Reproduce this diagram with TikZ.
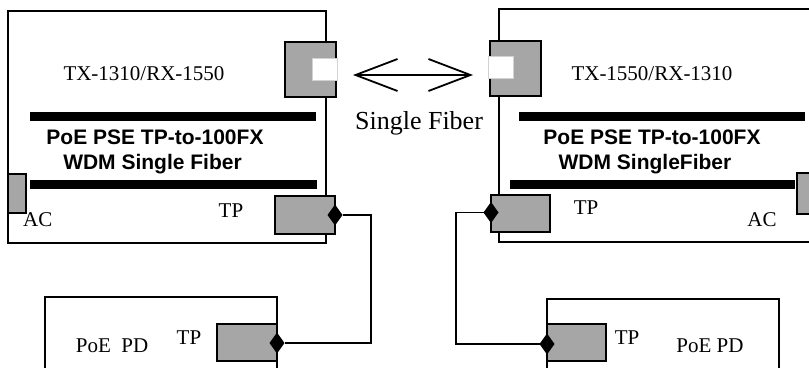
\documentclass[tikz,border=0pt]{standalone}
\usepackage{fontspec}
\setmainfont{Liberation Serif}
\newfontfamily\sansb{Liberation Sans}
\usetikzlibrary{shapes.geometric,arrows.meta}
\definecolor{portgray}{RGB}{166,166,166}
\begin{document}
\begin{tikzpicture}[x=1pt,y=-1pt,
  mainbox/.style={draw, line width=2.2pt, inner sep=0pt, outer sep=0pt, anchor=north west},
  port/.style={draw, fill=portgray, line width=1.8pt, inner sep=0pt, outer sep=0pt, anchor=north west},
  hole/.style={fill=white, draw=gray!35, line width=0.6pt, inner sep=0pt, outer sep=0pt, anchor=north west},
  bar/.style={fill=black, inner sep=0pt, outer sep=0pt, anchor=north west},
  jack/.style={diamond, fill=black, minimum width=15pt, minimum height=21pt, inner sep=0pt, outer sep=0pt},
  wire/.style={line width=1.8pt},
  lbl/.style={font=\fontsize{21}{25}\selectfont, anchor=base, inner sep=0pt},
  blbl/.style={font=\sansb\bfseries\fontsize{21}{25}\selectfont, anchor=base, inner sep=0pt},
  barb/.tip={Straight Barb[length=42pt,width=32pt]}
]
\path[use as bounding box, clip] (0,0) rectangle (809,367);

% main boxes
\node[mainbox, minimum width=318pt, minimum height=232pt] (mbl) at (8,10.7) {};
\node[mainbox, minimum width=330pt, minimum height=232.7pt] (mbr) at (499,9.3) {};
% PD boxes
\node[mainbox, minimum width=232pt, minimum height=100pt] (pdl) at (45,297) {};
\node[mainbox, minimum width=232pt, minimum height=100pt] (pdr) at (547,299) {};

% bars
\node[bar, minimum width=286pt, minimum height=9pt] (bl1) at (30,112) {};
\node[bar, minimum width=287pt, minimum height=9pt] (bl2) at (30,180) {};
\node[bar, minimum width=286pt, minimum height=8.5pt] (br1) at (519,112) {};
\node[bar, minimum width=285pt, minimum height=9pt] (br2) at (510,180) {};

% fiber ports
\node[port, minimum width=51pt, minimum height=55pt] (pfl) at (285,42) {};
\node[hole, minimum width=25pt, minimum height=22pt] (wfl) at (312,58) {};
\node[port, minimum width=51pt, minimum height=55pt] (pfr) at (490,41) {};
\node[hole, minimum width=25pt, minimum height=22pt] (wfr) at (488,56) {};

% AC ports
\node[port, minimum width=18pt, minimum height=39pt] (acl) at (8,174) {};
\node[port, minimum width=20pt, minimum height=41pt] (acr) at (797,173) {};

% TP ports
\node[port, minimum width=60pt, minimum height=38pt] (tpl) at (275,196) {};
\node[port, minimum width=59pt, minimum height=37pt] (tpr) at (491,195) {};
\node[port, minimum width=60pt, minimum height=37pt] (tpdl) at (217,324) {};
\node[port, minimum width=59pt, minimum height=37pt] (tpdr) at (547,324) {};

% jacks
\node[jack] (dl1) at (335,215) {};
\node[jack] (dr1) at (491,212.5) {};
\node[jack] (dl2) at (277,343) {};
\node[jack] (dr2) at (547,344) {};

% wires
\coordinate (jl) at (371,280);
\coordinate (jr) at (456,280);
\draw[wire] (dl1.east) -- (dl1.east -| jl) |- (dl2.east);
\draw[wire] (dr1.west) -- (dr1.west -| jr) |- (dr2.west);

% fiber arrow
\coordinate (fa) at (353,75);
\coordinate (fb) at (473,75);
\draw[wire, barb-barb] (fa) -- (fb);

% labels
\node[lbl] (txl) at (144,80) {TX-1310/RX-1550};
\node[lbl] (txr) at (652,80) {TX-1550/RX-1310};
\node[blbl] (nl1) at (155,144) {PoE PSE TP-to-100FX};
\node[blbl] (nl2) at (152.5,169) {WDM Single Fiber};
\node[blbl] (nr1) at (652,144) {PoE PSE TP-to-100FX};
\node[blbl] (nr2) at (645,169) {WDM SingleFiber};
\node[lbl, font=\fontsize{26}{30}\selectfont] (sf) at (419,129) {Single Fiber};
\node[lbl] (acla) at (37.7,226) {AC};
\node[lbl] (acra) at (762,226) {AC};
\node[lbl] (tpla) at (231,217) {TP};
\node[lbl] (tpra) at (586,214) {TP};
\node[lbl] (tpdla) at (189,344) {TP};
\node[lbl] (tpdra) at (627,344) {TP};
\node[lbl] (pdla) at (112,352) {PoE\ \ PD};
\node[lbl] (pdra) at (710,352) {PoE PD};
\end{tikzpicture}
\end{document}
